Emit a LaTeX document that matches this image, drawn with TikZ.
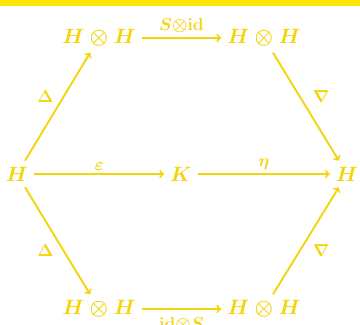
\documentclass[tikz,border=0pt]{standalone}
\usepackage{amsmath,amssymb}
\definecolor{ink}{RGB}{244,212,10}
\definecolor{barc}{RGB}{255,230,0}
\begin{document}
\begin{tikzpicture}[x=1pt,y=1pt,
  obj/.style={text=ink,inner sep=6pt,font=\fontsize{21.5}{26}\selectfont\boldmath},
  lbl/.style={text=ink,inner sep=3pt,font=\fontsize{17}{20}\selectfont\boldmath},
  arr/.style={draw=ink,line width=1.9pt,->}]
\useasboundingbox (0,0) rectangle (360,325);
\fill[barc] (0,319) rectangle (360,325);
\node[obj] (tl) at (99,287) {$H\otimes H$};
\node[obj] (tr) at (264,287) {$H\otimes H$};
\node[obj] (L) at (17,151) {$H$};
\node[obj] (K) at (181,151) {$K$};
\node[obj] (R) at (347,151) {$H$};
\node[obj] (bl) at (99,16) {$H\otimes H$};
\node[obj] (br) at (264,16) {$H\otimes H$};
\draw[arr] (tl) -- node[lbl,above,yshift=1pt]{$S{\otimes}\mathrm{id}$} (tr);
\draw[arr] (bl) -- node[lbl,below,yshift=-5pt]{$\mathrm{id}{\otimes}S$} (br);
\draw[arr] (L) -- node[lbl,above]{$\varepsilon$} (K);
\draw[arr] (K) -- node[lbl,above]{$\eta$} (R);
\draw[arr] (L) -- node[lbl,above left]{$\Delta$} (tl);
\draw[arr] (tr) -- node[lbl,above right,xshift=3pt]{$\nabla$} (R);
\draw[arr] (L) -- node[lbl,below left]{$\Delta$} (bl);
\draw[arr] (br) -- node[lbl,below right,xshift=3pt]{$\nabla$} (R);
\end{tikzpicture}
\end{document}
